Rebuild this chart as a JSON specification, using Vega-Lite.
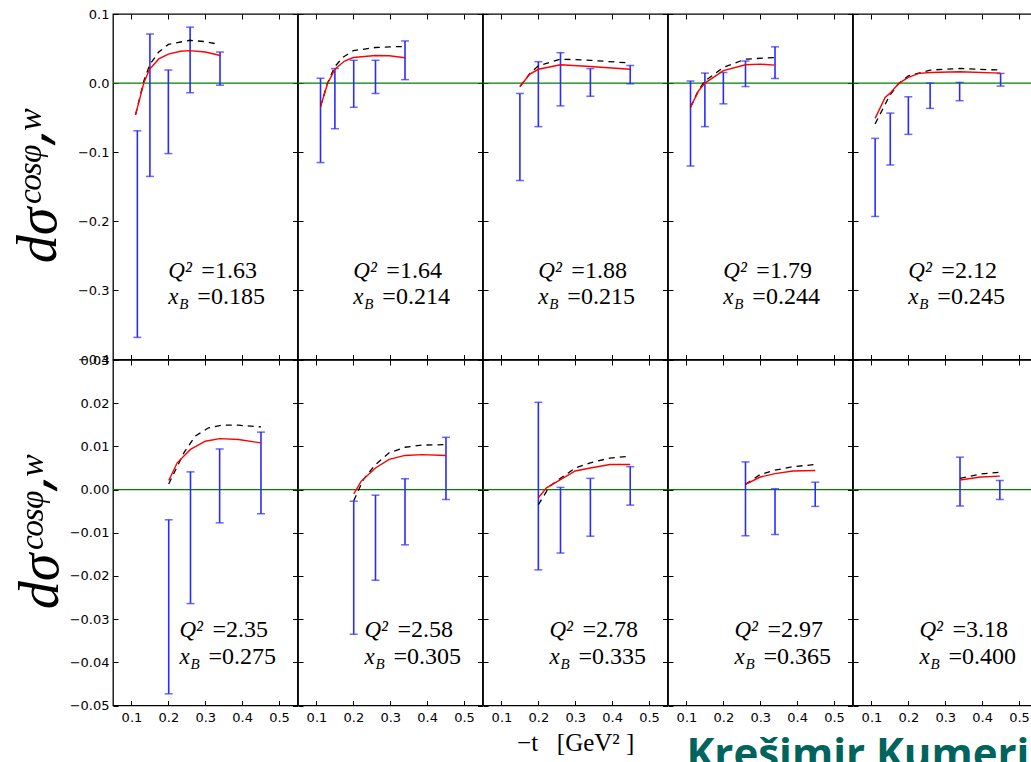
{
"$schema": "https://vega.github.io/schema/vega-lite/v6.json",
"background": "white",
"padding": {"left": 9, "top": 7, "right": 0, "bottom": 0},
"config": {
 "view": {"stroke": "black", "strokeWidth": 1.3},
 "axis": {"domain": false, "grid": false, "tickColor": "black", "tickWidth": 1, "tickSize": 5, "offset": -5, "labelFont": "DejaVu Sans", "labelFontSize": 13, "labelColor": "black", "labelFlush": false, "labelOverlap": false, "titleColor": "black", "titleFont": "Liberation Serif", "titleFontWeight": "normal"},
 "text": {"align": "left", "baseline": "middle", "font": "Liberation Serif", "fontSize": 24, "color": "black"}
},
"datasets": {
 "ann": [
  {"p":1,"q":"=1.63","xb":"=0.185"},{"p":2,"q":"=1.64","xb":"=0.214"},{"p":3,"q":"=1.88","xb":"=0.215"},{"p":4,"q":"=1.79","xb":"=0.244"},{"p":5,"q":"=2.12","xb":"=0.245"},
  {"p":6,"q":"=2.35","xb":"=0.275"},{"p":7,"q":"=2.58","xb":"=0.305"},{"p":8,"q":"=2.78","xb":"=0.335"},{"p":9,"q":"=2.97","xb":"=0.365"},{"p":10,"q":"=3.18","xb":"=0.400"}
 ],
 "bars": [
  {"p":1,"t":0.116,"lo":-0.368,"hi":-0.069},{"p":1,"t":0.150,"lo":-0.135,"hi":0.071},{"p":1,"t":0.200,"lo":-0.102,"hi":0.019},{"p":1,"t":0.259,"lo":-0.014,"hi":0.081},{"p":1,"t":0.340,"lo":-0.003,"hi":0.045},
  {"p":2,"t":0.111,"lo":-0.115,"hi":0.007},{"p":2,"t":0.150,"lo":-0.066,"hi":0.021},{"p":2,"t":0.201,"lo":-0.035,"hi":0.033},{"p":2,"t":0.260,"lo":-0.015,"hi":0.033},{"p":2,"t":0.340,"lo":0.005,"hi":0.061},
  {"p":3,"t":0.150,"lo":-0.141,"hi":-0.015},{"p":3,"t":0.200,"lo":-0.063,"hi":0.031},{"p":3,"t":0.260,"lo":-0.033,"hi":0.044},{"p":3,"t":0.341,"lo":-0.019,"hi":0.021},{"p":3,"t":0.449,"lo":-0.001,"hi":0.0255},
  {"p":4,"t":0.111,"lo":-0.120,"hi":0.003},{"p":4,"t":0.150,"lo":-0.063,"hi":0.0145},{"p":4,"t":0.200,"lo":-0.030,"hi":0.0154},{"p":4,"t":0.260,"lo":-0.005,"hi":0.032},{"p":4,"t":0.340,"lo":0.0067,"hi":0.0525},
  {"p":5,"t":0.110,"lo":-0.193,"hi":-0.080},{"p":5,"t":0.151,"lo":-0.1185,"hi":-0.0434},{"p":5,"t":0.200,"lo":-0.0742,"hi":-0.0198},{"p":5,"t":0.259,"lo":-0.0366,"hi":0.0},{"p":5,"t":0.339,"lo":-0.0255,"hi":0.001},{"p":5,"t":0.450,"lo":-0.0043,"hi":0.014},
  {"p":6,"t":0.201,"lo":-0.0473,"hi":-0.0070},{"p":6,"t":0.260,"lo":-0.0264,"hi":0.0041},{"p":6,"t":0.339,"lo":-0.0077,"hi":0.0094},{"p":6,"t":0.451,"lo":-0.0056,"hi":0.0133},
  {"p":7,"t":0.201,"lo":-0.0335,"hi":-0.0027},{"p":7,"t":0.260,"lo":-0.021,"hi":-0.0013},{"p":7,"t":0.340,"lo":-0.0128,"hi":0.0025},{"p":7,"t":0.451,"lo":-0.0023,"hi":0.0121},
  {"p":8,"t":0.200,"lo":-0.0186,"hi":0.0202},{"p":8,"t":0.260,"lo":-0.0147,"hi":0.0005},{"p":8,"t":0.341,"lo":-0.0108,"hi":0.0026},{"p":8,"t":0.449,"lo":-0.0036,"hi":0.0053},
  {"p":9,"t":0.260,"lo":-0.0107,"hi":0.0064},{"p":9,"t":0.340,"lo":-0.0104,"hi":0.0002},{"p":9,"t":0.449,"lo":-0.0039,"hi":0.0017},
  {"p":10,"t":0.340,"lo":-0.0038,"hi":0.0075},{"p":10,"t":0.448,"lo":-0.0023,"hi":0.0021}
 ],
 "curves": [
  {"p":1,"s":"m","t":0.111,"v":-0.046},{"p":1,"s":"m","t":0.134,"v":0.001},{"p":1,"s":"m","t":0.149,"v":0.020},{"p":1,"s":"m","t":0.174,"v":0.035},{"p":1,"s":"m","t":0.2,"v":0.042},{"p":1,"s":"m","t":0.233,"v":0.046},{"p":1,"s":"m","t":0.258,"v":0.047},{"p":1,"s":"m","t":0.3,"v":0.045},{"p":1,"s":"m","t":0.341,"v":0.040},
  {"p":1,"s":"d","t":0.111,"v":-0.046},{"p":1,"s":"d","t":0.134,"v":0.004},{"p":1,"s":"d","t":0.15,"v":0.027},{"p":1,"s":"d","t":0.174,"v":0.045},{"p":1,"s":"d","t":0.2,"v":0.056},{"p":1,"s":"d","t":0.258,"v":0.062},{"p":1,"s":"d","t":0.3,"v":0.060},{"p":1,"s":"d","t":0.338,"v":0.056},
  {"p":2,"s":"m","t":0.111,"v":-0.034},{"p":2,"s":"m","t":0.13,"v":-0.001},{"p":2,"s":"m","t":0.15,"v":0.020},{"p":2,"s":"m","t":0.176,"v":0.032},{"p":2,"s":"m","t":0.2,"v":0.037},{"p":2,"s":"m","t":0.26,"v":0.040},{"p":2,"s":"m","t":0.297,"v":0.0395},{"p":2,"s":"m","t":0.34,"v":0.0366},
  {"p":2,"s":"d","t":0.111,"v":-0.034},{"p":2,"s":"d","t":0.13,"v":0.0},{"p":2,"s":"d","t":0.15,"v":0.024},{"p":2,"s":"d","t":0.171,"v":0.037},{"p":2,"s":"d","t":0.2,"v":0.047},{"p":2,"s":"d","t":0.26,"v":0.0515},{"p":2,"s":"d","t":0.3,"v":0.0525},{"p":2,"s":"d","t":0.34,"v":0.053},
  {"p":3,"s":"m","t":0.15,"v":-0.005},{"p":3,"s":"m","t":0.177,"v":0.013},{"p":3,"s":"m","t":0.2,"v":0.020},{"p":3,"s":"m","t":0.26,"v":0.0265},{"p":3,"s":"m","t":0.341,"v":0.024},{"p":3,"s":"m","t":0.449,"v":0.020},
  {"p":3,"s":"d","t":0.15,"v":-0.005},{"p":3,"s":"d","t":0.177,"v":0.014},{"p":3,"s":"d","t":0.2,"v":0.025},{"p":3,"s":"d","t":0.26,"v":0.0347},{"p":3,"s":"d","t":0.341,"v":0.033},{"p":3,"s":"d","t":0.449,"v":0.029},
  {"p":4,"s":"m","t":0.111,"v":-0.035},{"p":4,"s":"m","t":0.133,"v":-0.011},{"p":4,"s":"m","t":0.15,"v":0.0},{"p":4,"s":"m","t":0.2,"v":0.018},{"p":4,"s":"m","t":0.26,"v":0.0265},{"p":4,"s":"m","t":0.3,"v":0.0275},{"p":4,"s":"m","t":0.34,"v":0.026},
  {"p":4,"s":"d","t":0.111,"v":-0.035},{"p":4,"s":"d","t":0.133,"v":-0.010},{"p":4,"s":"d","t":0.15,"v":0.003},{"p":4,"s":"d","t":0.2,"v":0.0227},{"p":4,"s":"d","t":0.26,"v":0.0347},{"p":4,"s":"d","t":0.34,"v":0.037},
  {"p":5,"s":"m","t":0.11,"v":-0.051},{"p":5,"s":"m","t":0.137,"v":-0.0207},{"p":5,"s":"m","t":0.15,"v":-0.0149},{"p":5,"s":"m","t":0.175,"v":0.0},{"p":5,"s":"m","t":0.2,"v":0.0082},{"p":5,"s":"m","t":0.229,"v":0.014},{"p":5,"s":"m","t":0.259,"v":0.0154},{"p":5,"s":"m","t":0.339,"v":0.0164},{"p":5,"s":"m","t":0.45,"v":0.0145},
  {"p":5,"s":"d","t":0.11,"v":-0.059},{"p":5,"s":"d","t":0.15,"v":-0.0173},{"p":5,"s":"d","t":0.175,"v":0.0},{"p":5,"s":"d","t":0.2,"v":0.0106},{"p":5,"s":"d","t":0.259,"v":0.0188},{"p":5,"s":"d","t":0.339,"v":0.0212},{"p":5,"s":"d","t":0.45,"v":0.0188},
  {"p":6,"s":"m","t":0.201,"v":0.0021},{"p":6,"s":"m","t":0.224,"v":0.0062},{"p":6,"s":"m","t":0.26,"v":0.0093},{"p":6,"s":"m","t":0.3,"v":0.0112},{"p":6,"s":"m","t":0.339,"v":0.0118},{"p":6,"s":"m","t":0.39,"v":0.0116},{"p":6,"s":"m","t":0.451,"v":0.0108},
  {"p":6,"s":"d","t":0.201,"v":0.0013},{"p":6,"s":"d","t":0.242,"v":0.0085},{"p":6,"s":"d","t":0.273,"v":0.0124},{"p":6,"s":"d","t":0.309,"v":0.0143},{"p":6,"s":"d","t":0.345,"v":0.0149},{"p":6,"s":"d","t":0.39,"v":0.0149},{"p":6,"s":"d","t":0.451,"v":0.0145},
  {"p":7,"s":"m","t":0.201,"v":-0.001},{"p":7,"s":"m","t":0.221,"v":0.0019},{"p":7,"s":"m","t":0.26,"v":0.005},{"p":7,"s":"m","t":0.297,"v":0.007},{"p":7,"s":"m","t":0.34,"v":0.0079},{"p":7,"s":"m","t":0.387,"v":0.0081},{"p":7,"s":"m","t":0.451,"v":0.0079},
  {"p":7,"s":"d","t":0.201,"v":-0.0026},{"p":7,"s":"d","t":0.227,"v":0.0023},{"p":7,"s":"d","t":0.26,"v":0.0058},{"p":7,"s":"d","t":0.297,"v":0.0085},{"p":7,"s":"d","t":0.34,"v":0.0098},{"p":7,"s":"d","t":0.387,"v":0.0103},{"p":7,"s":"d","t":0.451,"v":0.0104},
  {"p":8,"s":"m","t":0.2,"v":-0.0019},{"p":8,"s":"m","t":0.222,"v":0.0004},{"p":8,"s":"m","t":0.26,"v":0.0023},{"p":8,"s":"m","t":0.3,"v":0.0043},{"p":8,"s":"m","t":0.341,"v":0.005},{"p":8,"s":"m","t":0.394,"v":0.0058},{"p":8,"s":"m","t":0.449,"v":0.0058},
  {"p":8,"s":"d","t":0.2,"v":-0.0035},{"p":8,"s":"d","t":0.231,"v":0.0008},{"p":8,"s":"d","t":0.26,"v":0.0026},{"p":8,"s":"d","t":0.3,"v":0.005},{"p":8,"s":"d","t":0.341,"v":0.0062},{"p":8,"s":"d","t":0.394,"v":0.0073},{"p":8,"s":"d","t":0.449,"v":0.0077},
  {"p":9,"s":"m","t":0.26,"v":0.0012},{"p":9,"s":"m","t":0.3,"v":0.0029},{"p":9,"s":"m","t":0.34,"v":0.0037},{"p":9,"s":"m","t":0.389,"v":0.0043},{"p":9,"s":"m","t":0.449,"v":0.0044},
  {"p":9,"s":"d","t":0.26,"v":0.0012},{"p":9,"s":"d","t":0.3,"v":0.0035},{"p":9,"s":"d","t":0.34,"v":0.0045},{"p":9,"s":"d","t":0.389,"v":0.0053},{"p":9,"s":"d","t":0.449,"v":0.0058},
  {"p":10,"s":"m","t":0.34,"v":0.0022},{"p":10,"s":"m","t":0.396,"v":0.0029},{"p":10,"s":"m","t":0.448,"v":0.0031},
  {"p":10,"s":"d","t":0.34,"v":0.0026},{"p":10,"s":"d","t":0.396,"v":0.0036},{"p":10,"s":"d","t":0.448,"v":0.004}
 ]
},
"columns": 5,
"spacing": 0,
"bounds": "flush",
"concat": [
{"width":184.5,"height":345.5,"resolve":{"axis":{"x":"independent","y":"independent"}},"layer":[
 {"data":{"name":"ann"},"transform":[{"filter":"datum.p==1"}],"mark":{"type":"rule","color":"#008000","strokeWidth":1.2},"encoding":{"y":{"datum":0,"type":"quantitative","scale":{"domain":[-0.4,0.1],"nice":false,"zero":false},"axis":null}}},
 {"data":{"name":"bars"},"transform":[{"filter":"datum.p==1"}],"mark":{"type":"rule","color":"#2b2bff","strokeWidth":1.6},"encoding":{"x":{"field":"t","type":"quantitative","scale":{"domain":[0.05,0.55],"nice":false,"zero":false},"axis":{"orient":"bottom","values":[0.1,0.2,0.3,0.4,0.5],"labels":false,"title":null}},"y":{"field":"lo","type":"quantitative","scale":{"domain":[-0.4,0.1],"nice":false,"zero":false},"axis":{"orient":"left","values":[-0.4,-0.3,-0.2,-0.1,0,0.1],"format":".1f","labelPadding":4,"title":"dσᶜᵒˢᵠ⸴ʷ","titleFontSize":56,"titleFontStyle":"italic","titlePadding":10}},"y2":{"field":"hi"}}},
 {"data":{"name":"bars"},"transform":[{"filter":"datum.p==1"}],"mark":{"type":"tick","orient":"horizontal","color":"#2b2bff","size":8,"thickness":1.5},"encoding":{"x":{"field":"t","type":"quantitative","axis":null},"y":{"field":"lo","type":"quantitative","axis":null}}},
 {"data":{"name":"bars"},"transform":[{"filter":"datum.p==1"}],"mark":{"type":"tick","orient":"horizontal","color":"#2b2bff","size":8,"thickness":1.5},"encoding":{"x":{"field":"t","type":"quantitative","axis":null},"y":{"field":"hi","type":"quantitative","axis":null}}},
 {"data":{"name":"curves"},"transform":[{"filter":"datum.p==1 && datum.s=='d'"}],"mark":{"type":"line","color":"black","strokeWidth":1.3,"strokeDash":[6,5]},"encoding":{"x":{"field":"t","type":"quantitative","axis":null},"y":{"field":"v","type":"quantitative","axis":null}}},
 {"data":{"name":"curves"},"transform":[{"filter":"datum.p==1 && datum.s=='m'"}],"mark":{"type":"line","color":"red","strokeWidth":1.4},"encoding":{"x":{"field":"t","type":"quantitative","axis":{"orient":"top","values":[0.1,0.2,0.3,0.4,0.5],"labels":false,"title":null}},"y":{"field":"v","type":"quantitative","axis":{"orient":"right","values":[-0.4,-0.3,-0.2,-0.1,0,0.1],"labels":false,"title":null}}}},
 {"data":{"name":"ann"},"transform":[{"filter":"datum.p==1"}],"mark":{"type":"text","fontStyle":"italic","fontSize":23},"encoding":{"x":{"datum":0.2,"type":"quantitative","axis":null},"y":{"datum":-0.272,"type":"quantitative","axis":null},"text":{"value":"Q²"}}},
 {"data":{"name":"ann"},"transform":[{"filter":"datum.p==1"}],"mark":{"type":"text","dx":33},"encoding":{"x":{"datum":0.2,"type":"quantitative","axis":null},"y":{"datum":-0.272,"type":"quantitative","axis":null},"text":{"field":"q"}}},
 {"data":{"name":"ann"},"transform":[{"filter":"datum.p==1"}],"mark":{"type":"text","fontStyle":"italic","fontSize":23},"encoding":{"x":{"datum":0.2,"type":"quantitative","axis":null},"y":{"datum":-0.309,"type":"quantitative","axis":null},"text":{"value":"x"}}},
 {"data":{"name":"ann"},"transform":[{"filter":"datum.p==1"}],"mark":{"type":"text","fontStyle":"italic","fontSize":15,"dx":11,"dy":7},"encoding":{"x":{"datum":0.2,"type":"quantitative","axis":null},"y":{"datum":-0.309,"type":"quantitative","axis":null},"text":{"value":"B"}}},
 {"data":{"name":"ann"},"transform":[{"filter":"datum.p==1"}],"mark":{"type":"text","dx":29},"encoding":{"x":{"datum":0.2,"type":"quantitative","axis":null},"y":{"datum":-0.309,"type":"quantitative","axis":null},"text":{"field":"xb"}}}
]},
{"width":184.5,"height":345.5,"resolve":{"axis":{"x":"independent","y":"independent"}},"layer":[
 {"data":{"name":"ann"},"transform":[{"filter":"datum.p==2"}],"mark":{"type":"rule","color":"#008000","strokeWidth":1.2},"encoding":{"y":{"datum":0,"type":"quantitative","scale":{"domain":[-0.4,0.1],"nice":false,"zero":false},"axis":null}}},
 {"data":{"name":"bars"},"transform":[{"filter":"datum.p==2"}],"mark":{"type":"rule","color":"#2b2bff","strokeWidth":1.6},"encoding":{"x":{"field":"t","type":"quantitative","scale":{"domain":[0.05,0.55],"nice":false,"zero":false},"axis":{"orient":"bottom","values":[0.1,0.2,0.3,0.4,0.5],"labels":false,"title":null}},"y":{"field":"lo","type":"quantitative","scale":{"domain":[-0.4,0.1],"nice":false,"zero":false},"axis":{"orient":"left","values":[-0.4,-0.3,-0.2,-0.1,0,0.1],"labels":false,"title":null}},"y2":{"field":"hi"}}},
 {"data":{"name":"bars"},"transform":[{"filter":"datum.p==2"}],"mark":{"type":"tick","orient":"horizontal","color":"#2b2bff","size":8,"thickness":1.5},"encoding":{"x":{"field":"t","type":"quantitative","axis":null},"y":{"field":"lo","type":"quantitative","axis":null}}},
 {"data":{"name":"bars"},"transform":[{"filter":"datum.p==2"}],"mark":{"type":"tick","orient":"horizontal","color":"#2b2bff","size":8,"thickness":1.5},"encoding":{"x":{"field":"t","type":"quantitative","axis":null},"y":{"field":"hi","type":"quantitative","axis":null}}},
 {"data":{"name":"curves"},"transform":[{"filter":"datum.p==2 && datum.s=='d'"}],"mark":{"type":"line","color":"black","strokeWidth":1.3,"strokeDash":[6,5]},"encoding":{"x":{"field":"t","type":"quantitative","axis":null},"y":{"field":"v","type":"quantitative","axis":null}}},
 {"data":{"name":"curves"},"transform":[{"filter":"datum.p==2 && datum.s=='m'"}],"mark":{"type":"line","color":"red","strokeWidth":1.4},"encoding":{"x":{"field":"t","type":"quantitative","axis":{"orient":"top","values":[0.1,0.2,0.3,0.4,0.5],"labels":false,"title":null}},"y":{"field":"v","type":"quantitative","axis":{"orient":"right","values":[-0.4,-0.3,-0.2,-0.1,0,0.1],"labels":false,"title":null}}}},
 {"data":{"name":"ann"},"transform":[{"filter":"datum.p==2"}],"mark":{"type":"text","fontStyle":"italic","fontSize":23},"encoding":{"x":{"datum":0.2,"type":"quantitative","axis":null},"y":{"datum":-0.272,"type":"quantitative","axis":null},"text":{"value":"Q²"}}},
 {"data":{"name":"ann"},"transform":[{"filter":"datum.p==2"}],"mark":{"type":"text","dx":33},"encoding":{"x":{"datum":0.2,"type":"quantitative","axis":null},"y":{"datum":-0.272,"type":"quantitative","axis":null},"text":{"field":"q"}}},
 {"data":{"name":"ann"},"transform":[{"filter":"datum.p==2"}],"mark":{"type":"text","fontStyle":"italic","fontSize":23},"encoding":{"x":{"datum":0.2,"type":"quantitative","axis":null},"y":{"datum":-0.309,"type":"quantitative","axis":null},"text":{"value":"x"}}},
 {"data":{"name":"ann"},"transform":[{"filter":"datum.p==2"}],"mark":{"type":"text","fontStyle":"italic","fontSize":15,"dx":11,"dy":7},"encoding":{"x":{"datum":0.2,"type":"quantitative","axis":null},"y":{"datum":-0.309,"type":"quantitative","axis":null},"text":{"value":"B"}}},
 {"data":{"name":"ann"},"transform":[{"filter":"datum.p==2"}],"mark":{"type":"text","dx":29},"encoding":{"x":{"datum":0.2,"type":"quantitative","axis":null},"y":{"datum":-0.309,"type":"quantitative","axis":null},"text":{"field":"xb"}}}
]},
{"width":184.5,"height":345.5,"resolve":{"axis":{"x":"independent","y":"independent"}},"layer":[
 {"data":{"name":"ann"},"transform":[{"filter":"datum.p==3"}],"mark":{"type":"rule","color":"#008000","strokeWidth":1.2},"encoding":{"y":{"datum":0,"type":"quantitative","scale":{"domain":[-0.4,0.1],"nice":false,"zero":false},"axis":null}}},
 {"data":{"name":"bars"},"transform":[{"filter":"datum.p==3"}],"mark":{"type":"rule","color":"#2b2bff","strokeWidth":1.6},"encoding":{"x":{"field":"t","type":"quantitative","scale":{"domain":[0.05,0.55],"nice":false,"zero":false},"axis":{"orient":"bottom","values":[0.1,0.2,0.3,0.4,0.5],"labels":false,"title":null}},"y":{"field":"lo","type":"quantitative","scale":{"domain":[-0.4,0.1],"nice":false,"zero":false},"axis":{"orient":"left","values":[-0.4,-0.3,-0.2,-0.1,0,0.1],"labels":false,"title":null}},"y2":{"field":"hi"}}},
 {"data":{"name":"bars"},"transform":[{"filter":"datum.p==3"}],"mark":{"type":"tick","orient":"horizontal","color":"#2b2bff","size":8,"thickness":1.5},"encoding":{"x":{"field":"t","type":"quantitative","axis":null},"y":{"field":"lo","type":"quantitative","axis":null}}},
 {"data":{"name":"bars"},"transform":[{"filter":"datum.p==3"}],"mark":{"type":"tick","orient":"horizontal","color":"#2b2bff","size":8,"thickness":1.5},"encoding":{"x":{"field":"t","type":"quantitative","axis":null},"y":{"field":"hi","type":"quantitative","axis":null}}},
 {"data":{"name":"curves"},"transform":[{"filter":"datum.p==3 && datum.s=='d'"}],"mark":{"type":"line","color":"black","strokeWidth":1.3,"strokeDash":[6,5]},"encoding":{"x":{"field":"t","type":"quantitative","axis":null},"y":{"field":"v","type":"quantitative","axis":null}}},
 {"data":{"name":"curves"},"transform":[{"filter":"datum.p==3 && datum.s=='m'"}],"mark":{"type":"line","color":"red","strokeWidth":1.4},"encoding":{"x":{"field":"t","type":"quantitative","axis":{"orient":"top","values":[0.1,0.2,0.3,0.4,0.5],"labels":false,"title":null}},"y":{"field":"v","type":"quantitative","axis":{"orient":"right","values":[-0.4,-0.3,-0.2,-0.1,0,0.1],"labels":false,"title":null}}}},
 {"data":{"name":"ann"},"transform":[{"filter":"datum.p==3"}],"mark":{"type":"text","fontStyle":"italic","fontSize":23},"encoding":{"x":{"datum":0.2,"type":"quantitative","axis":null},"y":{"datum":-0.272,"type":"quantitative","axis":null},"text":{"value":"Q²"}}},
 {"data":{"name":"ann"},"transform":[{"filter":"datum.p==3"}],"mark":{"type":"text","dx":33},"encoding":{"x":{"datum":0.2,"type":"quantitative","axis":null},"y":{"datum":-0.272,"type":"quantitative","axis":null},"text":{"field":"q"}}},
 {"data":{"name":"ann"},"transform":[{"filter":"datum.p==3"}],"mark":{"type":"text","fontStyle":"italic","fontSize":23},"encoding":{"x":{"datum":0.2,"type":"quantitative","axis":null},"y":{"datum":-0.309,"type":"quantitative","axis":null},"text":{"value":"x"}}},
 {"data":{"name":"ann"},"transform":[{"filter":"datum.p==3"}],"mark":{"type":"text","fontStyle":"italic","fontSize":15,"dx":11,"dy":7},"encoding":{"x":{"datum":0.2,"type":"quantitative","axis":null},"y":{"datum":-0.309,"type":"quantitative","axis":null},"text":{"value":"B"}}},
 {"data":{"name":"ann"},"transform":[{"filter":"datum.p==3"}],"mark":{"type":"text","dx":29},"encoding":{"x":{"datum":0.2,"type":"quantitative","axis":null},"y":{"datum":-0.309,"type":"quantitative","axis":null},"text":{"field":"xb"}}}
]},
{"width":184.5,"height":345.5,"resolve":{"axis":{"x":"independent","y":"independent"}},"layer":[
 {"data":{"name":"ann"},"transform":[{"filter":"datum.p==4"}],"mark":{"type":"rule","color":"#008000","strokeWidth":1.2},"encoding":{"y":{"datum":0,"type":"quantitative","scale":{"domain":[-0.4,0.1],"nice":false,"zero":false},"axis":null}}},
 {"data":{"name":"bars"},"transform":[{"filter":"datum.p==4"}],"mark":{"type":"rule","color":"#2b2bff","strokeWidth":1.6},"encoding":{"x":{"field":"t","type":"quantitative","scale":{"domain":[0.05,0.55],"nice":false,"zero":false},"axis":{"orient":"bottom","values":[0.1,0.2,0.3,0.4,0.5],"labels":false,"title":null}},"y":{"field":"lo","type":"quantitative","scale":{"domain":[-0.4,0.1],"nice":false,"zero":false},"axis":{"orient":"left","values":[-0.4,-0.3,-0.2,-0.1,0,0.1],"labels":false,"title":null}},"y2":{"field":"hi"}}},
 {"data":{"name":"bars"},"transform":[{"filter":"datum.p==4"}],"mark":{"type":"tick","orient":"horizontal","color":"#2b2bff","size":8,"thickness":1.5},"encoding":{"x":{"field":"t","type":"quantitative","axis":null},"y":{"field":"lo","type":"quantitative","axis":null}}},
 {"data":{"name":"bars"},"transform":[{"filter":"datum.p==4"}],"mark":{"type":"tick","orient":"horizontal","color":"#2b2bff","size":8,"thickness":1.5},"encoding":{"x":{"field":"t","type":"quantitative","axis":null},"y":{"field":"hi","type":"quantitative","axis":null}}},
 {"data":{"name":"curves"},"transform":[{"filter":"datum.p==4 && datum.s=='d'"}],"mark":{"type":"line","color":"black","strokeWidth":1.3,"strokeDash":[6,5]},"encoding":{"x":{"field":"t","type":"quantitative","axis":null},"y":{"field":"v","type":"quantitative","axis":null}}},
 {"data":{"name":"curves"},"transform":[{"filter":"datum.p==4 && datum.s=='m'"}],"mark":{"type":"line","color":"red","strokeWidth":1.4},"encoding":{"x":{"field":"t","type":"quantitative","axis":{"orient":"top","values":[0.1,0.2,0.3,0.4,0.5],"labels":false,"title":null}},"y":{"field":"v","type":"quantitative","axis":{"orient":"right","values":[-0.4,-0.3,-0.2,-0.1,0,0.1],"labels":false,"title":null}}}},
 {"data":{"name":"ann"},"transform":[{"filter":"datum.p==4"}],"mark":{"type":"text","fontStyle":"italic","fontSize":23},"encoding":{"x":{"datum":0.2,"type":"quantitative","axis":null},"y":{"datum":-0.272,"type":"quantitative","axis":null},"text":{"value":"Q²"}}},
 {"data":{"name":"ann"},"transform":[{"filter":"datum.p==4"}],"mark":{"type":"text","dx":33},"encoding":{"x":{"datum":0.2,"type":"quantitative","axis":null},"y":{"datum":-0.272,"type":"quantitative","axis":null},"text":{"field":"q"}}},
 {"data":{"name":"ann"},"transform":[{"filter":"datum.p==4"}],"mark":{"type":"text","fontStyle":"italic","fontSize":23},"encoding":{"x":{"datum":0.2,"type":"quantitative","axis":null},"y":{"datum":-0.309,"type":"quantitative","axis":null},"text":{"value":"x"}}},
 {"data":{"name":"ann"},"transform":[{"filter":"datum.p==4"}],"mark":{"type":"text","fontStyle":"italic","fontSize":15,"dx":11,"dy":7},"encoding":{"x":{"datum":0.2,"type":"quantitative","axis":null},"y":{"datum":-0.309,"type":"quantitative","axis":null},"text":{"value":"B"}}},
 {"data":{"name":"ann"},"transform":[{"filter":"datum.p==4"}],"mark":{"type":"text","dx":29},"encoding":{"x":{"datum":0.2,"type":"quantitative","axis":null},"y":{"datum":-0.309,"type":"quantitative","axis":null},"text":{"field":"xb"}}}
]},
{"width":184.5,"height":345.5,"resolve":{"axis":{"x":"independent","y":"independent"}},"layer":[
 {"data":{"name":"ann"},"transform":[{"filter":"datum.p==5"}],"mark":{"type":"rule","color":"#008000","strokeWidth":1.2},"encoding":{"y":{"datum":0,"type":"quantitative","scale":{"domain":[-0.4,0.1],"nice":false,"zero":false},"axis":null}}},
 {"data":{"name":"bars"},"transform":[{"filter":"datum.p==5"}],"mark":{"type":"rule","color":"#2b2bff","strokeWidth":1.6},"encoding":{"x":{"field":"t","type":"quantitative","scale":{"domain":[0.05,0.55],"nice":false,"zero":false},"axis":{"orient":"bottom","values":[0.1,0.2,0.3,0.4,0.5],"labels":false,"title":null}},"y":{"field":"lo","type":"quantitative","scale":{"domain":[-0.4,0.1],"nice":false,"zero":false},"axis":{"orient":"left","values":[-0.4,-0.3,-0.2,-0.1,0,0.1],"labels":false,"title":null}},"y2":{"field":"hi"}}},
 {"data":{"name":"bars"},"transform":[{"filter":"datum.p==5"}],"mark":{"type":"tick","orient":"horizontal","color":"#2b2bff","size":8,"thickness":1.5},"encoding":{"x":{"field":"t","type":"quantitative","axis":null},"y":{"field":"lo","type":"quantitative","axis":null}}},
 {"data":{"name":"bars"},"transform":[{"filter":"datum.p==5"}],"mark":{"type":"tick","orient":"horizontal","color":"#2b2bff","size":8,"thickness":1.5},"encoding":{"x":{"field":"t","type":"quantitative","axis":null},"y":{"field":"hi","type":"quantitative","axis":null}}},
 {"data":{"name":"curves"},"transform":[{"filter":"datum.p==5 && datum.s=='d'"}],"mark":{"type":"line","color":"black","strokeWidth":1.3,"strokeDash":[6,5]},"encoding":{"x":{"field":"t","type":"quantitative","axis":null},"y":{"field":"v","type":"quantitative","axis":null}}},
 {"data":{"name":"curves"},"transform":[{"filter":"datum.p==5 && datum.s=='m'"}],"mark":{"type":"line","color":"red","strokeWidth":1.4},"encoding":{"x":{"field":"t","type":"quantitative","axis":{"orient":"top","values":[0.1,0.2,0.3,0.4,0.5],"labels":false,"title":null}},"y":{"field":"v","type":"quantitative","axis":{"orient":"right","values":[-0.4,-0.3,-0.2,-0.1,0,0.1],"labels":false,"title":null}}}},
 {"data":{"name":"ann"},"transform":[{"filter":"datum.p==5"}],"mark":{"type":"text","fontStyle":"italic","fontSize":23},"encoding":{"x":{"datum":0.2,"type":"quantitative","axis":null},"y":{"datum":-0.272,"type":"quantitative","axis":null},"text":{"value":"Q²"}}},
 {"data":{"name":"ann"},"transform":[{"filter":"datum.p==5"}],"mark":{"type":"text","dx":33},"encoding":{"x":{"datum":0.2,"type":"quantitative","axis":null},"y":{"datum":-0.272,"type":"quantitative","axis":null},"text":{"field":"q"}}},
 {"data":{"name":"ann"},"transform":[{"filter":"datum.p==5"}],"mark":{"type":"text","fontStyle":"italic","fontSize":23},"encoding":{"x":{"datum":0.2,"type":"quantitative","axis":null},"y":{"datum":-0.309,"type":"quantitative","axis":null},"text":{"value":"x"}}},
 {"data":{"name":"ann"},"transform":[{"filter":"datum.p==5"}],"mark":{"type":"text","fontStyle":"italic","fontSize":15,"dx":11,"dy":7},"encoding":{"x":{"datum":0.2,"type":"quantitative","axis":null},"y":{"datum":-0.309,"type":"quantitative","axis":null},"text":{"value":"B"}}},
 {"data":{"name":"ann"},"transform":[{"filter":"datum.p==5"}],"mark":{"type":"text","dx":29},"encoding":{"x":{"datum":0.2,"type":"quantitative","axis":null},"y":{"datum":-0.309,"type":"quantitative","axis":null},"text":{"field":"xb"}}}
]},
{"width":184.5,"height":345.5,"resolve":{"axis":{"x":"independent","y":"independent"}},"layer":[
 {"data":{"name":"ann"},"transform":[{"filter":"datum.p==6"}],"mark":{"type":"rule","color":"#008000","strokeWidth":1.2},"encoding":{"y":{"datum":0,"type":"quantitative","scale":{"domain":[-0.05,0.03],"nice":false,"zero":false},"axis":null}}},
 {"data":{"name":"bars"},"transform":[{"filter":"datum.p==6"}],"mark":{"type":"rule","color":"#2b2bff","strokeWidth":1.6},"encoding":{"x":{"field":"t","type":"quantitative","scale":{"domain":[0.05,0.55],"nice":false,"zero":false},"axis":{"orient":"bottom","values":[0.1,0.2,0.3,0.4,0.5],"format":".1f","labelPadding":6,"title":null}},"y":{"field":"lo","type":"quantitative","scale":{"domain":[-0.05,0.03],"nice":false,"zero":false},"axis":{"orient":"left","values":[-0.05,-0.04,-0.03,-0.02,-0.01,0,0.01,0.02,0.03],"format":".2f","labelPadding":4,"title":"dσᶜᵒˢᵠ⸴ʷ","titleFontSize":56,"titleFontStyle":"italic","titlePadding":0}},"y2":{"field":"hi"}}},
 {"data":{"name":"bars"},"transform":[{"filter":"datum.p==6"}],"mark":{"type":"tick","orient":"horizontal","color":"#2b2bff","size":8,"thickness":1.5},"encoding":{"x":{"field":"t","type":"quantitative","axis":null},"y":{"field":"lo","type":"quantitative","axis":null}}},
 {"data":{"name":"bars"},"transform":[{"filter":"datum.p==6"}],"mark":{"type":"tick","orient":"horizontal","color":"#2b2bff","size":8,"thickness":1.5},"encoding":{"x":{"field":"t","type":"quantitative","axis":null},"y":{"field":"hi","type":"quantitative","axis":null}}},
 {"data":{"name":"curves"},"transform":[{"filter":"datum.p==6 && datum.s=='d'"}],"mark":{"type":"line","color":"black","strokeWidth":1.3,"strokeDash":[6,5]},"encoding":{"x":{"field":"t","type":"quantitative","axis":null},"y":{"field":"v","type":"quantitative","axis":null}}},
 {"data":{"name":"curves"},"transform":[{"filter":"datum.p==6 && datum.s=='m'"}],"mark":{"type":"line","color":"red","strokeWidth":1.4},"encoding":{"x":{"field":"t","type":"quantitative","axis":{"orient":"top","values":[0.1,0.2,0.3,0.4,0.5],"labels":false,"title":null}},"y":{"field":"v","type":"quantitative","axis":{"orient":"right","values":[-0.05,-0.04,-0.03,-0.02,-0.01,0,0.01,0.02,0.03],"labels":false,"title":null}}}},
 {"data":{"name":"ann"},"transform":[{"filter":"datum.p==6"}],"mark":{"type":"text","fontStyle":"italic","fontSize":23},"encoding":{"x":{"datum":0.23,"type":"quantitative","axis":null},"y":{"datum":-0.0325,"type":"quantitative","axis":null},"text":{"value":"Q²"}}},
 {"data":{"name":"ann"},"transform":[{"filter":"datum.p==6"}],"mark":{"type":"text","dx":33},"encoding":{"x":{"datum":0.23,"type":"quantitative","axis":null},"y":{"datum":-0.0325,"type":"quantitative","axis":null},"text":{"field":"q"}}},
 {"data":{"name":"ann"},"transform":[{"filter":"datum.p==6"}],"mark":{"type":"text","fontStyle":"italic","fontSize":23},"encoding":{"x":{"datum":0.23,"type":"quantitative","axis":null},"y":{"datum":-0.0387,"type":"quantitative","axis":null},"text":{"value":"x"}}},
 {"data":{"name":"ann"},"transform":[{"filter":"datum.p==6"}],"mark":{"type":"text","fontStyle":"italic","fontSize":15,"dx":11,"dy":7},"encoding":{"x":{"datum":0.23,"type":"quantitative","axis":null},"y":{"datum":-0.0387,"type":"quantitative","axis":null},"text":{"value":"B"}}},
 {"data":{"name":"ann"},"transform":[{"filter":"datum.p==6"}],"mark":{"type":"text","dx":29},"encoding":{"x":{"datum":0.23,"type":"quantitative","axis":null},"y":{"datum":-0.0387,"type":"quantitative","axis":null},"text":{"field":"xb"}}}
]},
{"width":184.5,"height":345.5,"resolve":{"axis":{"x":"independent","y":"independent"}},"layer":[
 {"data":{"name":"ann"},"transform":[{"filter":"datum.p==7"}],"mark":{"type":"rule","color":"#008000","strokeWidth":1.2},"encoding":{"y":{"datum":0,"type":"quantitative","scale":{"domain":[-0.05,0.03],"nice":false,"zero":false},"axis":null}}},
 {"data":{"name":"bars"},"transform":[{"filter":"datum.p==7"}],"mark":{"type":"rule","color":"#2b2bff","strokeWidth":1.6},"encoding":{"x":{"field":"t","type":"quantitative","scale":{"domain":[0.05,0.55],"nice":false,"zero":false},"axis":{"orient":"bottom","values":[0.1,0.2,0.3,0.4,0.5],"format":".1f","labelPadding":6,"title":null}},"y":{"field":"lo","type":"quantitative","scale":{"domain":[-0.05,0.03],"nice":false,"zero":false},"axis":{"orient":"left","values":[-0.05,-0.04,-0.03,-0.02,-0.01,0,0.01,0.02,0.03],"labels":false,"title":null}},"y2":{"field":"hi"}}},
 {"data":{"name":"bars"},"transform":[{"filter":"datum.p==7"}],"mark":{"type":"tick","orient":"horizontal","color":"#2b2bff","size":8,"thickness":1.5},"encoding":{"x":{"field":"t","type":"quantitative","axis":null},"y":{"field":"lo","type":"quantitative","axis":null}}},
 {"data":{"name":"bars"},"transform":[{"filter":"datum.p==7"}],"mark":{"type":"tick","orient":"horizontal","color":"#2b2bff","size":8,"thickness":1.5},"encoding":{"x":{"field":"t","type":"quantitative","axis":null},"y":{"field":"hi","type":"quantitative","axis":null}}},
 {"data":{"name":"curves"},"transform":[{"filter":"datum.p==7 && datum.s=='d'"}],"mark":{"type":"line","color":"black","strokeWidth":1.3,"strokeDash":[6,5]},"encoding":{"x":{"field":"t","type":"quantitative","axis":null},"y":{"field":"v","type":"quantitative","axis":null}}},
 {"data":{"name":"curves"},"transform":[{"filter":"datum.p==7 && datum.s=='m'"}],"mark":{"type":"line","color":"red","strokeWidth":1.4},"encoding":{"x":{"field":"t","type":"quantitative","axis":{"orient":"top","values":[0.1,0.2,0.3,0.4,0.5],"labels":false,"title":null}},"y":{"field":"v","type":"quantitative","axis":{"orient":"right","values":[-0.05,-0.04,-0.03,-0.02,-0.01,0,0.01,0.02,0.03],"labels":false,"title":null}}}},
 {"data":{"name":"ann"},"transform":[{"filter":"datum.p==7"}],"mark":{"type":"text","fontStyle":"italic","fontSize":23},"encoding":{"x":{"datum":0.23,"type":"quantitative","axis":null},"y":{"datum":-0.0325,"type":"quantitative","axis":null},"text":{"value":"Q²"}}},
 {"data":{"name":"ann"},"transform":[{"filter":"datum.p==7"}],"mark":{"type":"text","dx":33},"encoding":{"x":{"datum":0.23,"type":"quantitative","axis":null},"y":{"datum":-0.0325,"type":"quantitative","axis":null},"text":{"field":"q"}}},
 {"data":{"name":"ann"},"transform":[{"filter":"datum.p==7"}],"mark":{"type":"text","fontStyle":"italic","fontSize":23},"encoding":{"x":{"datum":0.23,"type":"quantitative","axis":null},"y":{"datum":-0.0387,"type":"quantitative","axis":null},"text":{"value":"x"}}},
 {"data":{"name":"ann"},"transform":[{"filter":"datum.p==7"}],"mark":{"type":"text","fontStyle":"italic","fontSize":15,"dx":11,"dy":7},"encoding":{"x":{"datum":0.23,"type":"quantitative","axis":null},"y":{"datum":-0.0387,"type":"quantitative","axis":null},"text":{"value":"B"}}},
 {"data":{"name":"ann"},"transform":[{"filter":"datum.p==7"}],"mark":{"type":"text","dx":29},"encoding":{"x":{"datum":0.23,"type":"quantitative","axis":null},"y":{"datum":-0.0387,"type":"quantitative","axis":null},"text":{"field":"xb"}}}
]},
{"width":184.5,"height":345.5,"resolve":{"axis":{"x":"independent","y":"independent"}},"layer":[
 {"data":{"name":"ann"},"transform":[{"filter":"datum.p==8"}],"mark":{"type":"rule","color":"#008000","strokeWidth":1.2},"encoding":{"y":{"datum":0,"type":"quantitative","scale":{"domain":[-0.05,0.03],"nice":false,"zero":false},"axis":null}}},
 {"data":{"name":"bars"},"transform":[{"filter":"datum.p==8"}],"mark":{"type":"rule","color":"#2b2bff","strokeWidth":1.6},"encoding":{"x":{"field":"t","type":"quantitative","scale":{"domain":[0.05,0.55],"nice":false,"zero":false},"axis":{"orient":"bottom","values":[0.1,0.2,0.3,0.4,0.5],"format":".1f","labelPadding":6,"title":"−t\u00a0\u00a0\u00a0[GeV²\u00a0]","titleFontSize":25,"titlePadding":6}},"y":{"field":"lo","type":"quantitative","scale":{"domain":[-0.05,0.03],"nice":false,"zero":false},"axis":{"orient":"left","values":[-0.05,-0.04,-0.03,-0.02,-0.01,0,0.01,0.02,0.03],"labels":false,"title":null}},"y2":{"field":"hi"}}},
 {"data":{"name":"bars"},"transform":[{"filter":"datum.p==8"}],"mark":{"type":"tick","orient":"horizontal","color":"#2b2bff","size":8,"thickness":1.5},"encoding":{"x":{"field":"t","type":"quantitative","axis":null},"y":{"field":"lo","type":"quantitative","axis":null}}},
 {"data":{"name":"bars"},"transform":[{"filter":"datum.p==8"}],"mark":{"type":"tick","orient":"horizontal","color":"#2b2bff","size":8,"thickness":1.5},"encoding":{"x":{"field":"t","type":"quantitative","axis":null},"y":{"field":"hi","type":"quantitative","axis":null}}},
 {"data":{"name":"curves"},"transform":[{"filter":"datum.p==8 && datum.s=='d'"}],"mark":{"type":"line","color":"black","strokeWidth":1.3,"strokeDash":[6,5]},"encoding":{"x":{"field":"t","type":"quantitative","axis":null},"y":{"field":"v","type":"quantitative","axis":null}}},
 {"data":{"name":"curves"},"transform":[{"filter":"datum.p==8 && datum.s=='m'"}],"mark":{"type":"line","color":"red","strokeWidth":1.4},"encoding":{"x":{"field":"t","type":"quantitative","axis":{"orient":"top","values":[0.1,0.2,0.3,0.4,0.5],"labels":false,"title":null}},"y":{"field":"v","type":"quantitative","axis":{"orient":"right","values":[-0.05,-0.04,-0.03,-0.02,-0.01,0,0.01,0.02,0.03],"labels":false,"title":null}}}},
 {"data":{"name":"ann"},"transform":[{"filter":"datum.p==8"}],"mark":{"type":"text","fontStyle":"italic","fontSize":23},"encoding":{"x":{"datum":0.23,"type":"quantitative","axis":null},"y":{"datum":-0.0325,"type":"quantitative","axis":null},"text":{"value":"Q²"}}},
 {"data":{"name":"ann"},"transform":[{"filter":"datum.p==8"}],"mark":{"type":"text","dx":33},"encoding":{"x":{"datum":0.23,"type":"quantitative","axis":null},"y":{"datum":-0.0325,"type":"quantitative","axis":null},"text":{"field":"q"}}},
 {"data":{"name":"ann"},"transform":[{"filter":"datum.p==8"}],"mark":{"type":"text","fontStyle":"italic","fontSize":23},"encoding":{"x":{"datum":0.23,"type":"quantitative","axis":null},"y":{"datum":-0.0387,"type":"quantitative","axis":null},"text":{"value":"x"}}},
 {"data":{"name":"ann"},"transform":[{"filter":"datum.p==8"}],"mark":{"type":"text","fontStyle":"italic","fontSize":15,"dx":11,"dy":7},"encoding":{"x":{"datum":0.23,"type":"quantitative","axis":null},"y":{"datum":-0.0387,"type":"quantitative","axis":null},"text":{"value":"B"}}},
 {"data":{"name":"ann"},"transform":[{"filter":"datum.p==8"}],"mark":{"type":"text","dx":29},"encoding":{"x":{"datum":0.23,"type":"quantitative","axis":null},"y":{"datum":-0.0387,"type":"quantitative","axis":null},"text":{"field":"xb"}}}
]},
{"width":184.5,"height":345.5,"resolve":{"axis":{"x":"independent","y":"independent"}},"layer":[
 {"data":{"name":"ann"},"transform":[{"filter":"datum.p==9"}],"mark":{"type":"rule","color":"#008000","strokeWidth":1.2},"encoding":{"y":{"datum":0,"type":"quantitative","scale":{"domain":[-0.05,0.03],"nice":false,"zero":false},"axis":null}}},
 {"data":{"name":"bars"},"transform":[{"filter":"datum.p==9"}],"mark":{"type":"rule","color":"#2b2bff","strokeWidth":1.6},"encoding":{"x":{"field":"t","type":"quantitative","scale":{"domain":[0.05,0.55],"nice":false,"zero":false},"axis":{"orient":"bottom","values":[0.1,0.2,0.3,0.4,0.5],"format":".1f","labelPadding":6,"title":null}},"y":{"field":"lo","type":"quantitative","scale":{"domain":[-0.05,0.03],"nice":false,"zero":false},"axis":{"orient":"left","values":[-0.05,-0.04,-0.03,-0.02,-0.01,0,0.01,0.02,0.03],"labels":false,"title":null}},"y2":{"field":"hi"}}},
 {"data":{"name":"bars"},"transform":[{"filter":"datum.p==9"}],"mark":{"type":"tick","orient":"horizontal","color":"#2b2bff","size":8,"thickness":1.5},"encoding":{"x":{"field":"t","type":"quantitative","axis":null},"y":{"field":"lo","type":"quantitative","axis":null}}},
 {"data":{"name":"bars"},"transform":[{"filter":"datum.p==9"}],"mark":{"type":"tick","orient":"horizontal","color":"#2b2bff","size":8,"thickness":1.5},"encoding":{"x":{"field":"t","type":"quantitative","axis":null},"y":{"field":"hi","type":"quantitative","axis":null}}},
 {"data":{"name":"curves"},"transform":[{"filter":"datum.p==9 && datum.s=='d'"}],"mark":{"type":"line","color":"black","strokeWidth":1.3,"strokeDash":[6,5]},"encoding":{"x":{"field":"t","type":"quantitative","axis":null},"y":{"field":"v","type":"quantitative","axis":null}}},
 {"data":{"name":"curves"},"transform":[{"filter":"datum.p==9 && datum.s=='m'"}],"mark":{"type":"line","color":"red","strokeWidth":1.4},"encoding":{"x":{"field":"t","type":"quantitative","axis":{"orient":"top","values":[0.1,0.2,0.3,0.4,0.5],"labels":false,"title":null}},"y":{"field":"v","type":"quantitative","axis":{"orient":"right","values":[-0.05,-0.04,-0.03,-0.02,-0.01,0,0.01,0.02,0.03],"labels":false,"title":null}}}},
 {"data":{"name":"ann"},"transform":[{"filter":"datum.p==9"}],"mark":{"type":"text","fontStyle":"italic","fontSize":23},"encoding":{"x":{"datum":0.23,"type":"quantitative","axis":null},"y":{"datum":-0.0325,"type":"quantitative","axis":null},"text":{"value":"Q²"}}},
 {"data":{"name":"ann"},"transform":[{"filter":"datum.p==9"}],"mark":{"type":"text","dx":33},"encoding":{"x":{"datum":0.23,"type":"quantitative","axis":null},"y":{"datum":-0.0325,"type":"quantitative","axis":null},"text":{"field":"q"}}},
 {"data":{"name":"ann"},"transform":[{"filter":"datum.p==9"}],"mark":{"type":"text","fontStyle":"italic","fontSize":23},"encoding":{"x":{"datum":0.23,"type":"quantitative","axis":null},"y":{"datum":-0.0387,"type":"quantitative","axis":null},"text":{"value":"x"}}},
 {"data":{"name":"ann"},"transform":[{"filter":"datum.p==9"}],"mark":{"type":"text","fontStyle":"italic","fontSize":15,"dx":11,"dy":7},"encoding":{"x":{"datum":0.23,"type":"quantitative","axis":null},"y":{"datum":-0.0387,"type":"quantitative","axis":null},"text":{"value":"B"}}},
 {"data":{"name":"ann"},"transform":[{"filter":"datum.p==9"}],"mark":{"type":"text","dx":29},"encoding":{"x":{"datum":0.23,"type":"quantitative","axis":null},"y":{"datum":-0.0387,"type":"quantitative","axis":null},"text":{"field":"xb"}}},
 {"data":{"name":"ann"},"transform":[{"filter":"datum.p==9"}],"mark":{"type":"text","font":"Open Sans","fontWeight":"bold","fontSize":42,"color":"#00645e","baseline":"alphabetic","limit":362,"ellipsis":"\u200b"},"encoding":{"x":{"datum":0.1,"type":"quantitative","axis":null},"y":{"datum":-0.0645,"type":"quantitative","axis":null},"text":{"value":"Krešimir Kumerički"}}}
]},
{"width":184.5,"height":345.5,"resolve":{"axis":{"x":"independent","y":"independent"}},"layer":[
 {"data":{"name":"ann"},"transform":[{"filter":"datum.p==10"}],"mark":{"type":"rule","color":"#008000","strokeWidth":1.2},"encoding":{"y":{"datum":0,"type":"quantitative","scale":{"domain":[-0.05,0.03],"nice":false,"zero":false},"axis":null}}},
 {"data":{"name":"bars"},"transform":[{"filter":"datum.p==10"}],"mark":{"type":"rule","color":"#2b2bff","strokeWidth":1.6},"encoding":{"x":{"field":"t","type":"quantitative","scale":{"domain":[0.05,0.55],"nice":false,"zero":false},"axis":{"orient":"bottom","values":[0.1,0.2,0.3,0.4,0.5],"format":".1f","labelPadding":6,"title":null}},"y":{"field":"lo","type":"quantitative","scale":{"domain":[-0.05,0.03],"nice":false,"zero":false},"axis":{"orient":"left","values":[-0.05,-0.04,-0.03,-0.02,-0.01,0,0.01,0.02,0.03],"labels":false,"title":null}},"y2":{"field":"hi"}}},
 {"data":{"name":"bars"},"transform":[{"filter":"datum.p==10"}],"mark":{"type":"tick","orient":"horizontal","color":"#2b2bff","size":8,"thickness":1.5},"encoding":{"x":{"field":"t","type":"quantitative","axis":null},"y":{"field":"lo","type":"quantitative","axis":null}}},
 {"data":{"name":"bars"},"transform":[{"filter":"datum.p==10"}],"mark":{"type":"tick","orient":"horizontal","color":"#2b2bff","size":8,"thickness":1.5},"encoding":{"x":{"field":"t","type":"quantitative","axis":null},"y":{"field":"hi","type":"quantitative","axis":null}}},
 {"data":{"name":"curves"},"transform":[{"filter":"datum.p==10 && datum.s=='d'"}],"mark":{"type":"line","color":"black","strokeWidth":1.3,"strokeDash":[6,5]},"encoding":{"x":{"field":"t","type":"quantitative","axis":null},"y":{"field":"v","type":"quantitative","axis":null}}},
 {"data":{"name":"curves"},"transform":[{"filter":"datum.p==10 && datum.s=='m'"}],"mark":{"type":"line","color":"red","strokeWidth":1.4},"encoding":{"x":{"field":"t","type":"quantitative","axis":{"orient":"top","values":[0.1,0.2,0.3,0.4,0.5],"labels":false,"title":null}},"y":{"field":"v","type":"quantitative","axis":{"orient":"right","values":[-0.05,-0.04,-0.03,-0.02,-0.01,0,0.01,0.02,0.03],"labels":false,"title":null}}}},
 {"data":{"name":"ann"},"transform":[{"filter":"datum.p==10"}],"mark":{"type":"text","fontStyle":"italic","fontSize":23},"encoding":{"x":{"datum":0.23,"type":"quantitative","axis":null},"y":{"datum":-0.0325,"type":"quantitative","axis":null},"text":{"value":"Q²"}}},
 {"data":{"name":"ann"},"transform":[{"filter":"datum.p==10"}],"mark":{"type":"text","dx":33},"encoding":{"x":{"datum":0.23,"type":"quantitative","axis":null},"y":{"datum":-0.0325,"type":"quantitative","axis":null},"text":{"field":"q"}}},
 {"data":{"name":"ann"},"transform":[{"filter":"datum.p==10"}],"mark":{"type":"text","fontStyle":"italic","fontSize":23},"encoding":{"x":{"datum":0.23,"type":"quantitative","axis":null},"y":{"datum":-0.0387,"type":"quantitative","axis":null},"text":{"value":"x"}}},
 {"data":{"name":"ann"},"transform":[{"filter":"datum.p==10"}],"mark":{"type":"text","fontStyle":"italic","fontSize":15,"dx":11,"dy":7},"encoding":{"x":{"datum":0.23,"type":"quantitative","axis":null},"y":{"datum":-0.0387,"type":"quantitative","axis":null},"text":{"value":"B"}}},
 {"data":{"name":"ann"},"transform":[{"filter":"datum.p==10"}],"mark":{"type":"text","dx":29},"encoding":{"x":{"datum":0.23,"type":"quantitative","axis":null},"y":{"datum":-0.0387,"type":"quantitative","axis":null},"text":{"field":"xb"}}}
]}
]
}
